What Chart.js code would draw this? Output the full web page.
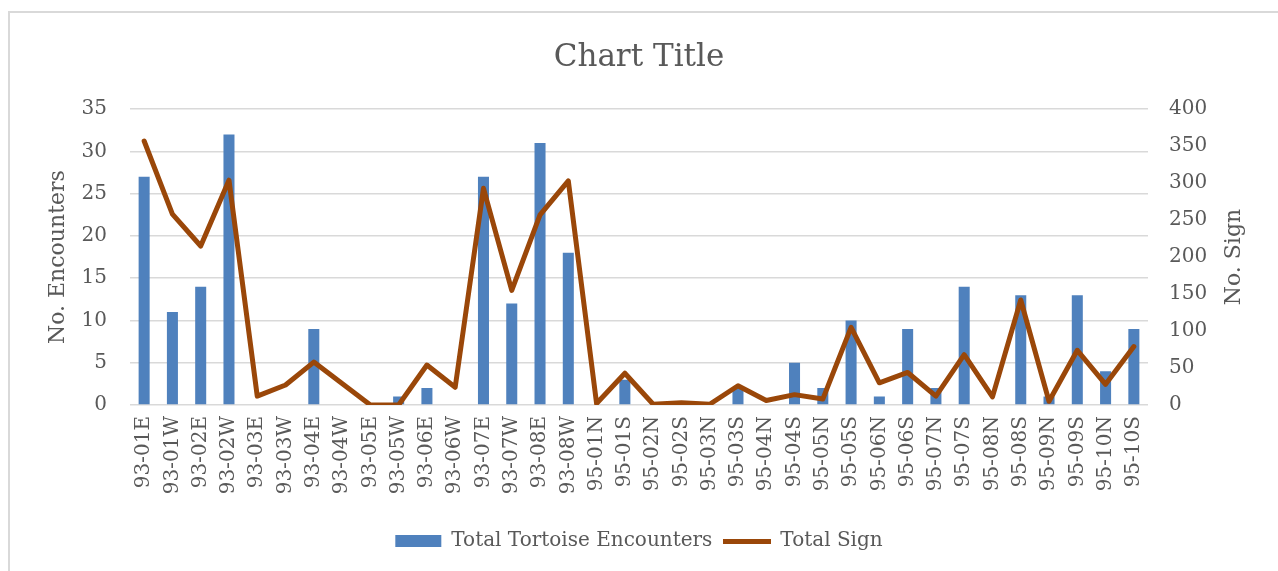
<!DOCTYPE html>
<html>
<head>
<meta charset="utf-8">
<script src="https://cdn.jsdelivr.net/npm/chart.js@4/dist/chart.umd.min.js"></script>
<style>
  html, body { margin: 0; padding: 0; background: #fff; overflow: hidden; }
  #wrap { position: relative; width: 1278px; height: 571px; }
  #frame { position: absolute; left: 8px; top: 11px; width: 1300px; height: 600px;
           border-left: 2px solid #d9d9d9; border-top: 2px solid #d9d9d9; }
  #growthChart { position: absolute; left: 0; top: 0; }
</style>
</head>
<body>
<div id="wrap">
  <div id="frame"></div>
  <canvas id="growthChart"></canvas>
</div>
<script>
const categories = ['93-01E', '93-01W', '93-02E', '93-02W', '93-03E', '93-03W', '93-04E', '93-04W',
  '93-05E', '93-05W', '93-06E', '93-06W', '93-07E', '93-07W', '93-08E', '93-08W',
  '95-01N', '95-01S', '95-02N', '95-02S', '95-03N', '95-03S', '95-04N', '95-04S',
  '95-05N', '95-05S', '95-06N', '95-06S', '95-07N', '95-07S', '95-08N', '95-08S',
  '95-09N', '95-09S', '95-10N', '95-10S'];
const encounters = [27, 11, 14, 32, 0, 0, 9, 0, 0, 1, 2, 0, 27, 12, 31, 18,
  0, 3, 0, 0, 0, 2, 0, 5, 2, 10, 1, 9, 2, 14, 0, 13, 1, 13, 4, 9];
const sign = [357, 258, 215, 304, 12, 27, 58, 29, 0, 0, 54, 24, 293, 155, 257, 303,
  2, 43, 1, 3, 1, 26, 6, 14, 8, 105, 30, 44, 12, 68, 11, 142, 5, 74, 28, 79];
const leftTicks = [0, 5, 10, 15, 20, 25, 30, 35];
const rightTicks = [0, 50, 100, 150, 200, 250, 300, 350, 400];

const fontFam = '"DejaVu Serif", serif';
const textCol = '#595959';
const lineCol = '#9a4709';

// petit trait pour la légende de la courbe
const lineSwatch = document.createElement('canvas');
lineSwatch.width = 48;
lineSwatch.height = 5;
const sw = lineSwatch.getContext('2d');
sw.fillStyle = lineCol;
sw.fillRect(0, 0, 48, 5);

// titre axe droit (lu de bas en haut comme dans Excel)
const rightTitle = {
  id: 'rightTitle',
  afterDraw(chart) {
    const c = chart.ctx;
    const area = chart.chartArea;
    c.save();
    c.translate(1234, (area.top + area.bottom) / 2);
    c.rotate(-Math.PI / 2);
    c.font = '22px ' + fontFam;
    c.fillStyle = textCol;
    c.textAlign = 'center';
    c.textBaseline = 'middle';
    c.fillText('No. Sign', 0, 0);
    c.restore();
  }
};

const ctx = document.getElementById('growthChart').getContext('2d');
const growthChart = new Chart(ctx, {
  type: 'bar',
  data: {
    labels: categories,
    datasets: [{
      label: 'Total Tortoise Encounters',
      data: encounters,
      backgroundColor: '#4f81bd',
      borderWidth: 0,
      barPercentage: 0.39,
      categoryPercentage: 1,
      yAxisID: 'y',
      pointStyle: 'rect',
      order: 1
    }, {
      type: 'line',
      label: 'Total Sign',
      data: sign,
      borderColor: lineCol,
      backgroundColor: lineCol,
      borderWidth: 5,
      pointRadius: 0,
      tension: 0,
      borderJoinStyle: 'round',
      borderCapStyle: 'round',
      yAxisID: 'y1',
      pointStyle: lineSwatch,
      order: 0
    }]
  },
  options: {
    responsive: true,
    maintainAspectRatio: false,
    animation: false,
    layout: { padding: { left: 10, right: 10, top: 0, bottom: 10 } },
    plugins: {
      title: {
        display: true,
        text: 'Chart Title',
        color: textCol,
        font: { family: fontFam, size: 31, weight: 'normal' },
        padding: { top: 39, bottom: 33 }
      },
      legend: {
        position: 'bottom',
        labels: {
          color: textCol,
          font: { family: fontFam, size: 20 },
          usePointStyle: true,
          pointStyleWidth: 46,
          boxWidth: 46,
          boxHeight: 12,
          padding: 12,
          sort: (a, b) => a.datasetIndex - b.datasetIndex
        }
      },
      tooltip: { enabled: false }
    },
    scales: {
      x: {
        grid: { display: false },
        border: { display: false },
        ticks: {
          color: textCol,
          font: { family: fontFam, size: 20 },
          minRotation: 90,
          maxRotation: 90,
          autoSkip: false,
          padding: 3
        },
        afterFit(scale) {
          scale.height = 571 - 403 - 44 - 10;
        }
      },
      y: {
        position: 'left',
        min: 0,
        max: 35,
        afterBuildTicks(scale) {
          scale.ticks = leftTicks.map(v => ({ value: v }));
        },
        grid: { color: '#d9d9d9', lineWidth: 1.5, drawTicks: false },
        border: { display: false },
        ticks: {
          color: textCol,
          font: { family: fontFam, size: 20 },
          padding: 23
        },
        title: {
          display: true,
          text: 'No. Encounters',
          color: textCol,
          font: { family: fontFam, size: 22 },
          padding: { top: 35, bottom: 0 }
        },
        afterFit(scale) {
          scale.width = 120;
        }
      },
      y1: {
        position: 'right',
        min: 0,
        max: 400,
        afterBuildTicks(scale) {
          scale.ticks = rightTicks.map(v => ({ value: v }));
        },
        grid: { display: false, drawTicks: false },
        border: { display: false },
        ticks: {
          color: textCol,
          font: { family: fontFam, size: 20 },
          padding: 21
        },
        afterFit(scale) {
          scale.width = 120;
        }
      }
    }
  },
  plugins: [rightTitle]
});
</script>
</body>
</html>
